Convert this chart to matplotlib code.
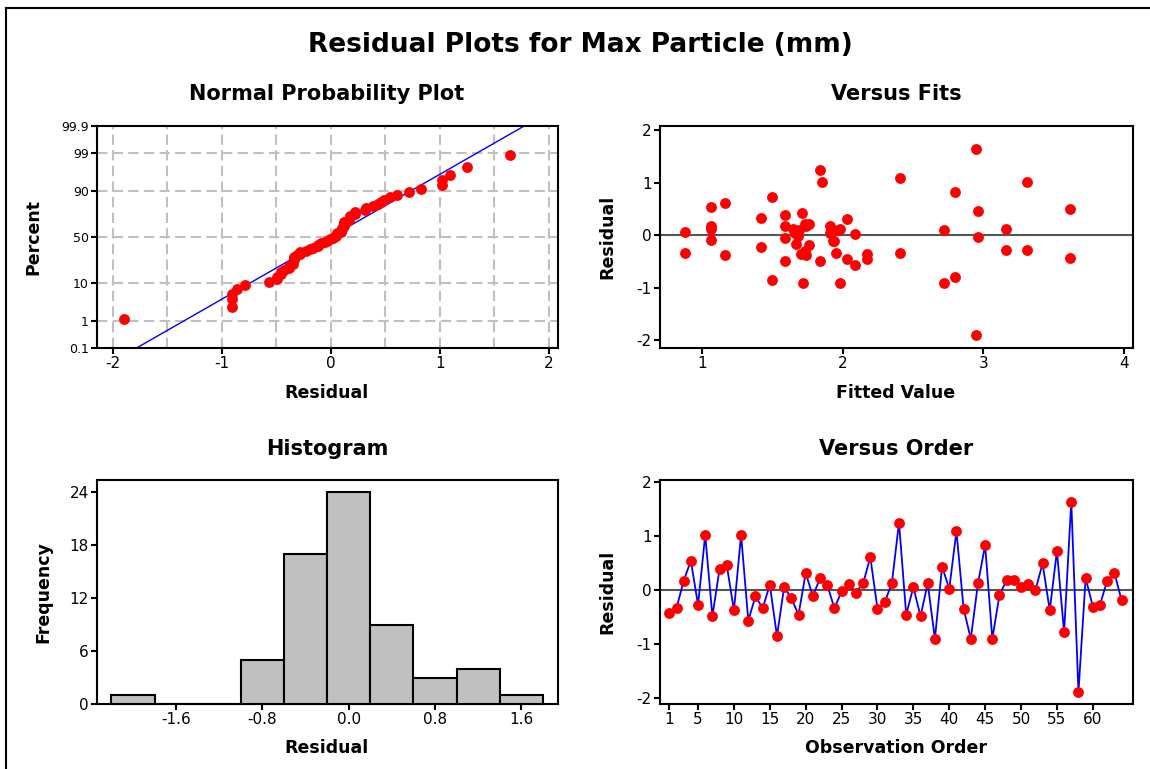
import numpy as np
import matplotlib
matplotlib.use("Agg")
import matplotlib.pyplot as plt
from matplotlib.lines import Line2D
from statistics import NormalDist

# ---------------- data ----------------
residuals = [-0.43, -0.34, 0.17, 0.54, -0.28, 1.02, -0.49, 0.39, 0.46, -0.38,
             1.02, -0.57, -0.12, -0.34, 0.09, -0.86, 0.06, -0.16, -0.46, 0.31,
             -0.12, 0.22, 0.09, -0.34, -0.03, 0.10, -0.05, 0.12, 0.61, -0.35,
             -0.23, 0.12, 1.25, -0.46, 0.05, -0.49, 0.12, -0.91, 0.43, 0.02,
             1.09, -0.35, -0.91, 0.12, 0.83, -0.91, -0.09, 0.18, 0.18, 0.05,
             0.10, -0.01, 0.49, -0.38, 0.72, -0.79, 1.64, -1.90, 0.22, -0.31,
             -0.28, 0.17, 0.32, -0.19]
fitted = [3.62, 1.95, 1.91, 1.06, 3.16, 1.85, 1.84, 1.59, 2.96, 1.16,
          3.31, 2.09, 1.93, 2.41, 1.97, 1.50, 0.88, 1.67, 2.03, 2.03,
          1.94, 1.76, 1.92, 0.88, 2.96, 2.72, 1.59, 1.65, 1.16, 2.17,
          1.42, 3.16, 1.84, 2.17, 1.66, 1.59, 1.06, 1.72, 1.71, 2.09,
          2.41, 1.70, 1.98, 1.98, 2.80, 2.72, 1.06, 1.06, 1.74, 1.91,
          1.69, 1.68, 3.62, 1.74, 1.50, 2.80, 2.95, 2.95, 1.73, 1.73,
          3.31, 1.59, 1.42, 1.76]
percent_ticks = [0.1, 1, 10, 50, 90, 99, 99.9]
percent_labels = ["0.1", "1", "10", "50", "90", "99", "99.9"]
prob_xticks = [-2, -1, 0, 1, 2]
hist_xticks = [-1.6, -0.8, 0.0, 0.8, 1.6]
hist_xlabels = ["-1.6", "-0.8", "0.0", "0.8", "1.6"]
hist_yticks = [0, 6, 12, 18, 24]
fits_xticks = [1, 2, 3, 4]
resid_yticks = [-2, -1, 0, 1, 2]
order_xticks = [1, 5, 10, 15, 20, 25, 30, 35, 40, 45, 50, 55, 60]

title = "Residual Plots for Max Particle (mm)"
sub_titles = ["Normal Probability Plot", "Versus Fits", "Histogram", "Versus Order"]

res = np.array(residuals)
fit = np.array(fitted)
order = np.arange(1, len(res) + 1)

# ---------------- figure ----------------
W, H = 1150, 769
plt.rcParams["font.family"] = ["DejaVu Sans"]
plt.rcParams["axes.unicode_minus"] = False
fig = plt.figure(figsize=(W / 100, H / 100), dpi=100)
fig.patch.set_facecolor("white")


def px_axes(l, r, t, b):
    return fig.add_axes([l / W, 1 - b / H, (r - l) / W, (b - t) / H])


def fx(x):
    return x / W


def fy(y):
    return 1 - y / H


RED = "#FF0000"
BLUE = "#0000FF"
TICK_FS = 11
LAB_FS = 12.5


def style(ax):
    for s in ax.spines.values():
        s.set_linewidth(1.5)
        s.set_color("black")
    ax.tick_params(direction="out", length=4, width=1.5, labelsize=TICK_FS,
                   colors="black", pad=2)


# outer frame (top and left edges)
fig.add_artist(Line2D([fx(6), fx(6)], [0, fy(8)], color="black", lw=1.5))
fig.add_artist(Line2D([fx(6), 1], [fy(8), fy(8)], color="black", lw=1.5))

fig.text(fx(580), fy(52), title, ha="center", va="baseline",
         fontsize=19, fontweight="bold")

# ---------- Normal probability plot ----------
nd = NormalDist()
ax1 = px_axes(97, 558, 126, 348)
style(ax1)
n = len(res)
srt = np.sort(res)
pp = (np.arange(1, n + 1) - 0.3) / (n + 0.4)
zq = np.array([nd.inv_cdf(p) for p in pp])
zlo, zhi = nd.inv_cdf(0.001), nd.inv_cdf(0.999)
mu, sd = res.mean(), res.std(ddof=1)
zz = np.linspace(zlo, zhi, 50)
ax1.set_xlim(-2.145, 2.085)
ax1.set_ylim(zlo, zhi)
for gx in np.arange(-2, 2.01, 0.5):
    ax1.axvline(gx, color="#C0C0C0", lw=1.5, dashes=(5, 2.5), zorder=1)
for p in percent_ticks[1:-1]:
    ax1.axhline(nd.inv_cdf(p / 100), color="#C0C0C0", lw=1.5, dashes=(5, 2.5), zorder=1)
ax1.plot(mu + sd * zz, zz, color=BLUE, lw=1.0, zorder=2)
ax1.plot(srt, zq, "o", color=RED, ms=7.8, mec="none", zorder=3)
ax1.set_xticks(prob_xticks)
ax1.set_yticks([nd.inv_cdf(p / 100) for p in percent_ticks])
ax1.set_yticklabels(percent_labels)
ax1.tick_params(axis="y", labelsize=9)

# ---------- Versus fits ----------
ax2 = px_axes(660, 1133, 126, 348)
style(ax2)
ax2.axhline(0, color="#555555", lw=1.5, zorder=1)
ax2.plot(fit, res, "o", color=RED, ms=7.8, mec="none", zorder=3)
ax2.set_xlim(0.70, 4.066)
ax2.set_ylim(-2.15, 2.08)
ax2.set_xticks(fits_xticks)
ax2.set_yticks(resid_yticks)

# ---------- Histogram ----------
ax3 = px_axes(97, 558, 480, 704)
style(ax3)
edges = np.linspace(-2.2, 1.8, 11)
ax3.hist(res, bins=edges, color="#C0C0C0", edgecolor="black", linewidth=1.5,
         zorder=3, clip_on=False)
ax3.set_xlim(-2.333, 1.94)
ax3.set_ylim(0, 25.4)
ax3.set_xticks(hist_xticks)
ax3.set_xticklabels(hist_xlabels)
ax3.set_yticks(hist_yticks)

# ---------- Versus order ----------
ax4 = px_axes(660, 1133, 480, 704)
style(ax4)
ax4.axhline(0, color="#555555", lw=1.5, zorder=1)
ax4.plot(order, res, "-", color=BLUE, lw=1.3, zorder=2)
ax4.plot(order, res, "o", color=RED, ms=7.8, mec="none", zorder=3)
ax4.set_xlim(-0.3, 65.6)
ax4.set_ylim(-2.12, 2.04)
ax4.set_xticks(order_xticks)
ax4.set_yticks(resid_yticks)

# ---------- titles & axis labels ----------
sub_pos = [(327, 100), (896, 100), (327, 455), (896, 455)]
for t, (x, y) in zip(sub_titles, sub_pos):
    fig.text(fx(x), fy(y), t, ha="center", va="baseline", fontsize=15, fontweight="bold")

xlabels = [("Residual", 327, 393), ("Fitted Value", 896, 393),
           ("Residual", 327, 748), ("Observation Order", 896, 748)]
for t, x, y in xlabels:
    fig.text(fx(x), fy(y), t, ha="center", va="center", fontsize=LAB_FS, fontweight="bold")
ylabels = [("Percent", 33, 237), ("Residual", 607, 237),
           ("Frequency", 43, 592), ("Residual", 607, 592)]
for t, x, y in ylabels:
    fig.text(fx(x), fy(y), t, ha="center", va="center", rotation=90,
             fontsize=LAB_FS, fontweight="bold")

fig.savefig("out.png", dpi=100)
